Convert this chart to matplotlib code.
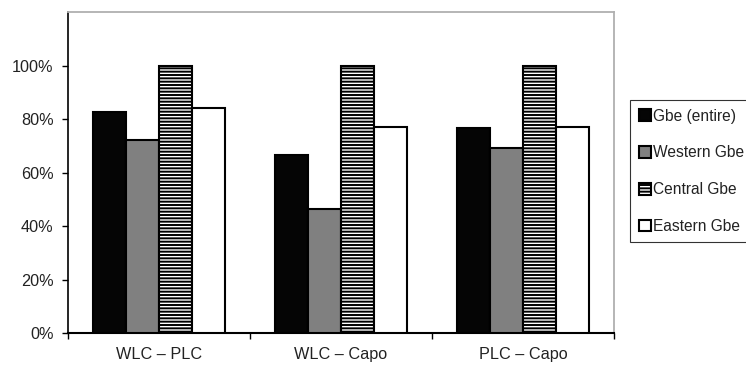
import numpy as np
import matplotlib
matplotlib.use("Agg")
import matplotlib.pyplot as plt
from matplotlib.ticker import PercentFormatter

# data
pairs = ["WLC \u2013 PLC", "WLC \u2013 Capo", "PLC \u2013 Capo"]
series = ["Gbe (entire)", "Western Gbe", "Central Gbe", "Eastern Gbe"]
gbe_entire = [82.5, 66.5, 76.8]
western_gbe = [72.2, 46.4, 69.2]
central_gbe = [100, 100, 100]
eastern_gbe = [84.2, 76.9, 76.9]

plt.rcParams['font.family'] = ['Liberation Sans', 'DejaVu Sans']
plt.rcParams['hatch.linewidth'] = 1.4

fig = plt.figure(figsize=(7.46, 3.68), dpi=100)
ax = fig.add_axes([0.0912, 0.0951, 0.823 - 0.0912, 0.967 - 0.0951])

fs = 11.7
x = np.arange(len(pairs))
w = 1 / 5.5
styles = [
    dict(color="#050505", hatch=None),
    dict(color="#808080", hatch=None),
    dict(color="white", hatch="-----"),
    dict(color="white", hatch=None),
]
vals = [gbe_entire, western_gbe, central_gbe, eastern_gbe]
for i in range(4):
    ax.bar(x + (i - 1.5) * w, vals[i], w, facecolor=styles[i]["color"],
           edgecolor="black", linewidth=1.5, hatch=styles[i]["hatch"],
           label=series[i], zorder=3)

ax.set_xlim(-0.5, 2.5)
ax.set_ylim(0, 120)
ax.set_yticks(np.arange(0, 101, 20))
ax.yaxis.set_major_formatter(PercentFormatter(decimals=0))
ax.tick_params(axis="y", direction="out", length=4.3, width=1, pad=6,
               labelsize=fs, labelcolor="#222222", color="black")

ax.set_xticks([-0.5, 0.5, 1.5, 2.5])
ax.set_xticklabels([])
ax.set_xticks(x, minor=True)
ax.set_xticklabels(pairs, minor=True)
ax.tick_params(axis="x", which="major", direction="out", length=4.3, width=1)
ax.tick_params(axis="x", which="minor", length=0, pad=10, labelsize=fs,
               labelcolor="#222222")

for s in ["top", "right"]:
    ax.spines[s].set_color("#b0b0b0")
    ax.spines[s].set_linewidth(1.3)
ax.spines["left"].set_color("black")
ax.spines["bottom"].set_color("black")
ax.spines["left"].set_linewidth(1.2)
ax.spines["bottom"].set_linewidth(1.5)

# legend runs past the right edge, as in the reference
leg = ax.legend(loc="upper left", bbox_to_anchor=(630 / 746, 1 - 100 / 368),
                bbox_transform=fig.transFigure, fontsize=11.2, frameon=True,
                fancybox=False, edgecolor="black", handlelength=0.78,
                handleheight=0.78, handletextpad=0.15, labelspacing=1.4,
                borderpad=0.55, borderaxespad=0)
leg.get_frame().set_linewidth(0.8)
for t in leg.get_texts():
    t.set_color("#222222")

fig.savefig("out.png", dpi=100)
